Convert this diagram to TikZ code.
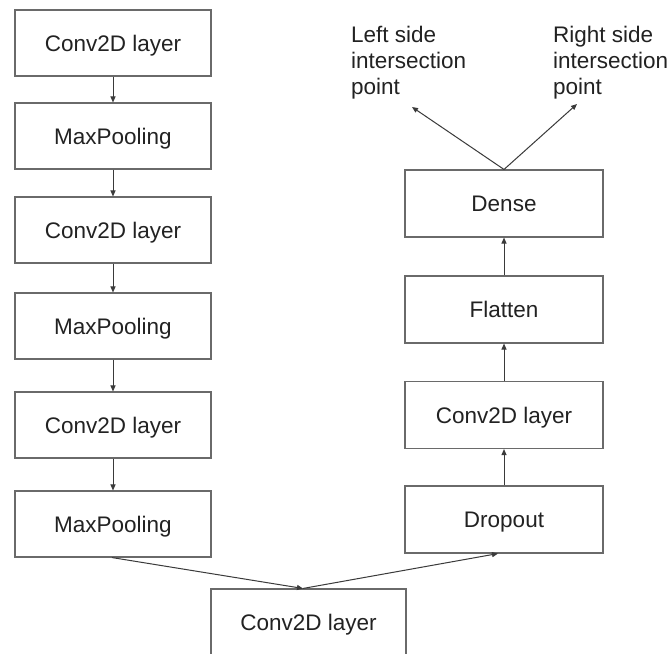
\documentclass[tikz,border=0pt]{standalone}
\usepackage{fontspec}
\setmainfont{Liberation Sans}
\usetikzlibrary{arrows.meta}
\definecolor{boxline}{HTML}{6A6A6A}
\definecolor{arrowline}{HTML}{3A3A3A}
\definecolor{txt}{HTML}{222222}
\tikzset{
  layer/.style={draw=boxline, line width=1.1pt, fill=white, inner sep=0pt,
    minimum width=196pt, minimum height=66pt, text=txt,
    text height=16pt, text depth=0pt,
    font=\fontsize{22.5}{26}\selectfont},
  rlayer/.style={layer, minimum width=198pt, minimum height=67pt},
  flow/.style={draw=arrowline, line width=1pt,
    -{Triangle[length=6pt,width=5pt]}},
  note/.style={text=txt, align=left, inner sep=0pt, anchor=north west,
    font=\fontsize{22.5}{26}\selectfont}
}
\begin{document}
\begin{tikzpicture}[x=1pt, y=-1pt]
  \useasboundingbox[fill=white] (0,0) rectangle (668,653);

  % left column, top to bottom
  \node[layer] (l1) at (113,43)  {Conv2D layer};
  \node[layer] (l2) at (113,136) {MaxPooling};
  \node[layer] (l3) at (113,230) {Conv2D layer};
  \node[layer] (l4) at (113,326) {MaxPooling};
  \node[layer] (l5) at (113,425) {Conv2D layer};
  \node[layer] (l6) at (113,524) {MaxPooling};

  % shared layer at the bottom
  \node[layer, minimum width=195pt] (mid) at (308.5,622) {Conv2D layer};

  % right column, bottom to top
  \node[rlayer] (r1) at (504,519.5) {Dropout};
  \node[rlayer] (r2) at (504,415)   {Conv2D layer};
  \node[rlayer] (r3) at (504,309.5) {Flatten};
  \node[rlayer] (r4) at (504,203.5) {Dense};

  % outputs
  \node[note] (outL) at (351,26) {Left side\\intersection\\point};
  \node[note] (outR) at (553,26) {Right side\\intersection\\point};
  \coordinate (tipL) at (412,107);
  \coordinate (tipR) at (577,104);

  % connectors
  \draw[flow] (l1) -- (l2);
  \draw[flow] (l2) -- (l3);
  \draw[flow] (l3) -- (l4);
  \draw[flow] (l4) -- (l5);
  \draw[flow] (l5) -- (l6);
  \draw[flow] ([xshift=-1pt]l6.south) -- ([xshift=-5.5pt]mid.north);
  \draw[flow] ([xshift=-5.5pt]mid.north) -- ([xshift=-6pt]r1.south);
  \draw[flow] (r1) -- (r2);
  \draw[flow] (r2) -- (r3);
  \draw[flow] (r3) -- (r4);
  \draw[flow] (r4.north) -- (tipL);
  \draw[flow] (r4.north) -- (tipR);
\end{tikzpicture}
\end{document}
